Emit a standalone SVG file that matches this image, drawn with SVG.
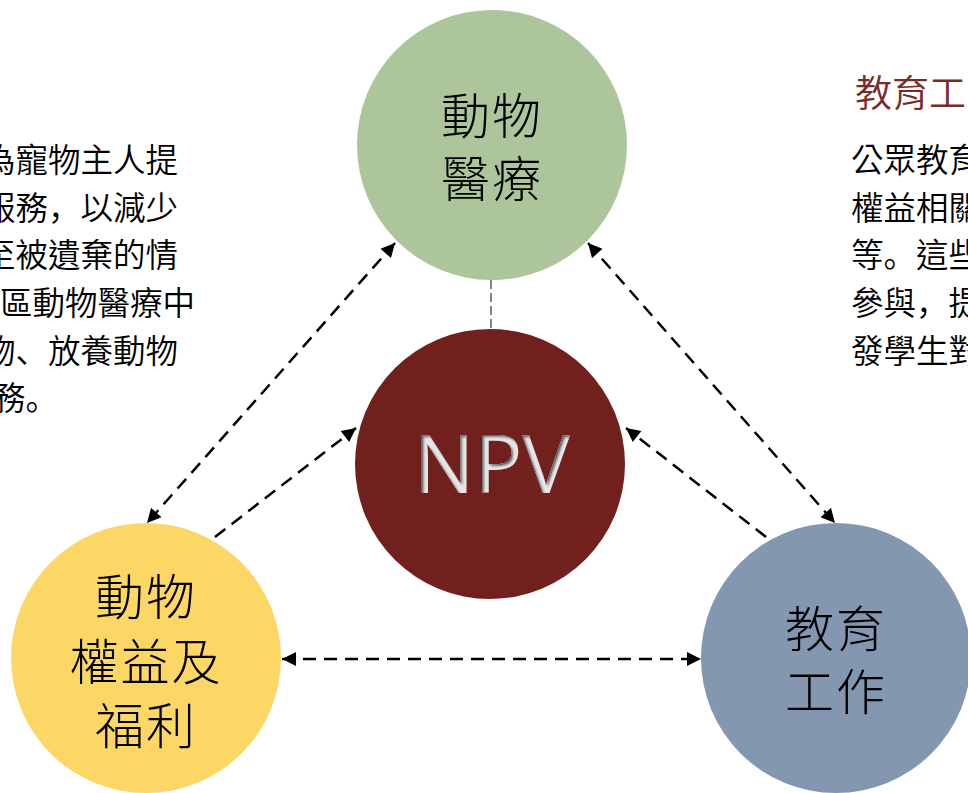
<svg xmlns="http://www.w3.org/2000/svg" width="968" height="793" viewBox="0 0 968 793">
<style>
.body{font-family:"Noto Sans CJK TC","Noto Sans CJK SC",sans-serif;font-size:32.5px;font-weight:350;fill:#000}
.p{font-family:"Noto Sans CJK JP","Noto Sans CJK SC",sans-serif}
.node{font-family:"Noto Sans CJK TC","Noto Sans CJK SC",sans-serif;font-size:49px;font-weight:300;fill:#000;text-anchor:middle;letter-spacing:2px}
.title{font-family:"Noto Sans CJK TC","Noto Sans CJK SC",sans-serif;font-size:37px;font-weight:350;fill:#7a2a28}
.link{stroke:#000;stroke-width:2.5;stroke-dasharray:13 8;fill:none}
.thin{stroke:#333;stroke-width:1.2;stroke-dasharray:9 4;fill:none}
</style>
<defs>
<marker id="ah" viewBox="0 0 10 10" refX="10" refY="5" markerUnits="userSpaceOnUse" markerWidth="16" markerHeight="14" orient="auto-start-reverse">
<path d="M0,0 L10,5 L0,10 z" fill="#000"/>
</marker>
<filter id="inset" x="-10%" y="-10%" width="120%" height="120%">
<feOffset in="SourceAlpha" dx="2" dy="2" result="off"/>
<feGaussianBlur in="off" stdDeviation="1.2" result="blur"/>
<feComposite operator="out" in="SourceAlpha" in2="blur" result="edge"/>
<feFlood flood-color="#555" result="col"/>
<feComposite operator="in" in="col" in2="edge" result="sh"/>
<feMerge><feMergeNode in="SourceGraphic"/><feMergeNode in="sh"/></feMerge>
</filter>
</defs>

<g id="left-text" class="body">
<text x="178" y="172" text-anchor="end">為寵物主人提</text>
<text x="178" y="220" text-anchor="end">服務<tspan class="p">，</tspan>以減少</text>
<text x="178" y="267" text-anchor="end">至被遺棄的情</text>
<text x="195" y="315" text-anchor="end">區動物醫療中</text>
<text x="178" y="363" text-anchor="end">物<tspan class="p">、</tspan>放養動物</text>
<text x="-7" y="410">務<tspan class="p">。</tspan></text>
</g>

<g id="right-text">
<text class="title" x="855" y="107">教育工</text>
<g class="body">
<text x="851" y="172">公眾教育</text>
<text x="851" y="220">權益相關</text>
<text x="851" y="267">等<tspan class="p">。</tspan>這些</text>
<text x="851" y="315">參與<tspan class="p">，</tspan>提</text>
<text x="851" y="363">發學生對</text>
</g>
</g>

<g id="connectors">
<line class="thin" x1="491" y1="280" x2="491" y2="329"/>
<line class="link" x1="395" y1="243" x2="147" y2="523" marker-start="url(#ah)" marker-end="url(#ah)"/>
<line class="link" x1="588" y1="243" x2="835" y2="523" marker-start="url(#ah)" marker-end="url(#ah)"/>
<line class="link" x1="282" y1="659" x2="701" y2="659" marker-start="url(#ah)" marker-end="url(#ah)"/>
<line class="link" x1="215" y1="537" x2="356" y2="428" marker-end="url(#ah)"/>
<line class="link" x1="766" y1="537" x2="626" y2="428" marker-end="url(#ah)"/>
</g>

<g id="node-medical">
<circle cx="492" cy="145" r="135" fill="#adc59a"/>
<text class="node" x="492" y="134">動物</text>
<text class="node" x="492" y="197">醫療</text>
</g>

<g id="node-npv">
<circle cx="490" cy="464" r="135" fill="#72201e"/>
<text x="492" y="493" text-anchor="middle" font-family="'Open Sans',sans-serif" font-size="80" fill="#e6e6e6" filter="url(#inset)">NPV</text>
</g>

<g id="node-welfare">
<circle cx="146" cy="658" r="135" fill="#fdd766"/>
<text class="node" x="146" y="615">動物</text>
<text class="node" x="146" y="680">權益及</text>
<text class="node" x="146" y="744">福利</text>
</g>

<g id="node-education">
<circle cx="836" cy="658" r="135" fill="#8397b0"/>
<text class="node" x="836" y="647">教育</text>
<text class="node" x="836" y="710">工作</text>
</g>
</svg>
